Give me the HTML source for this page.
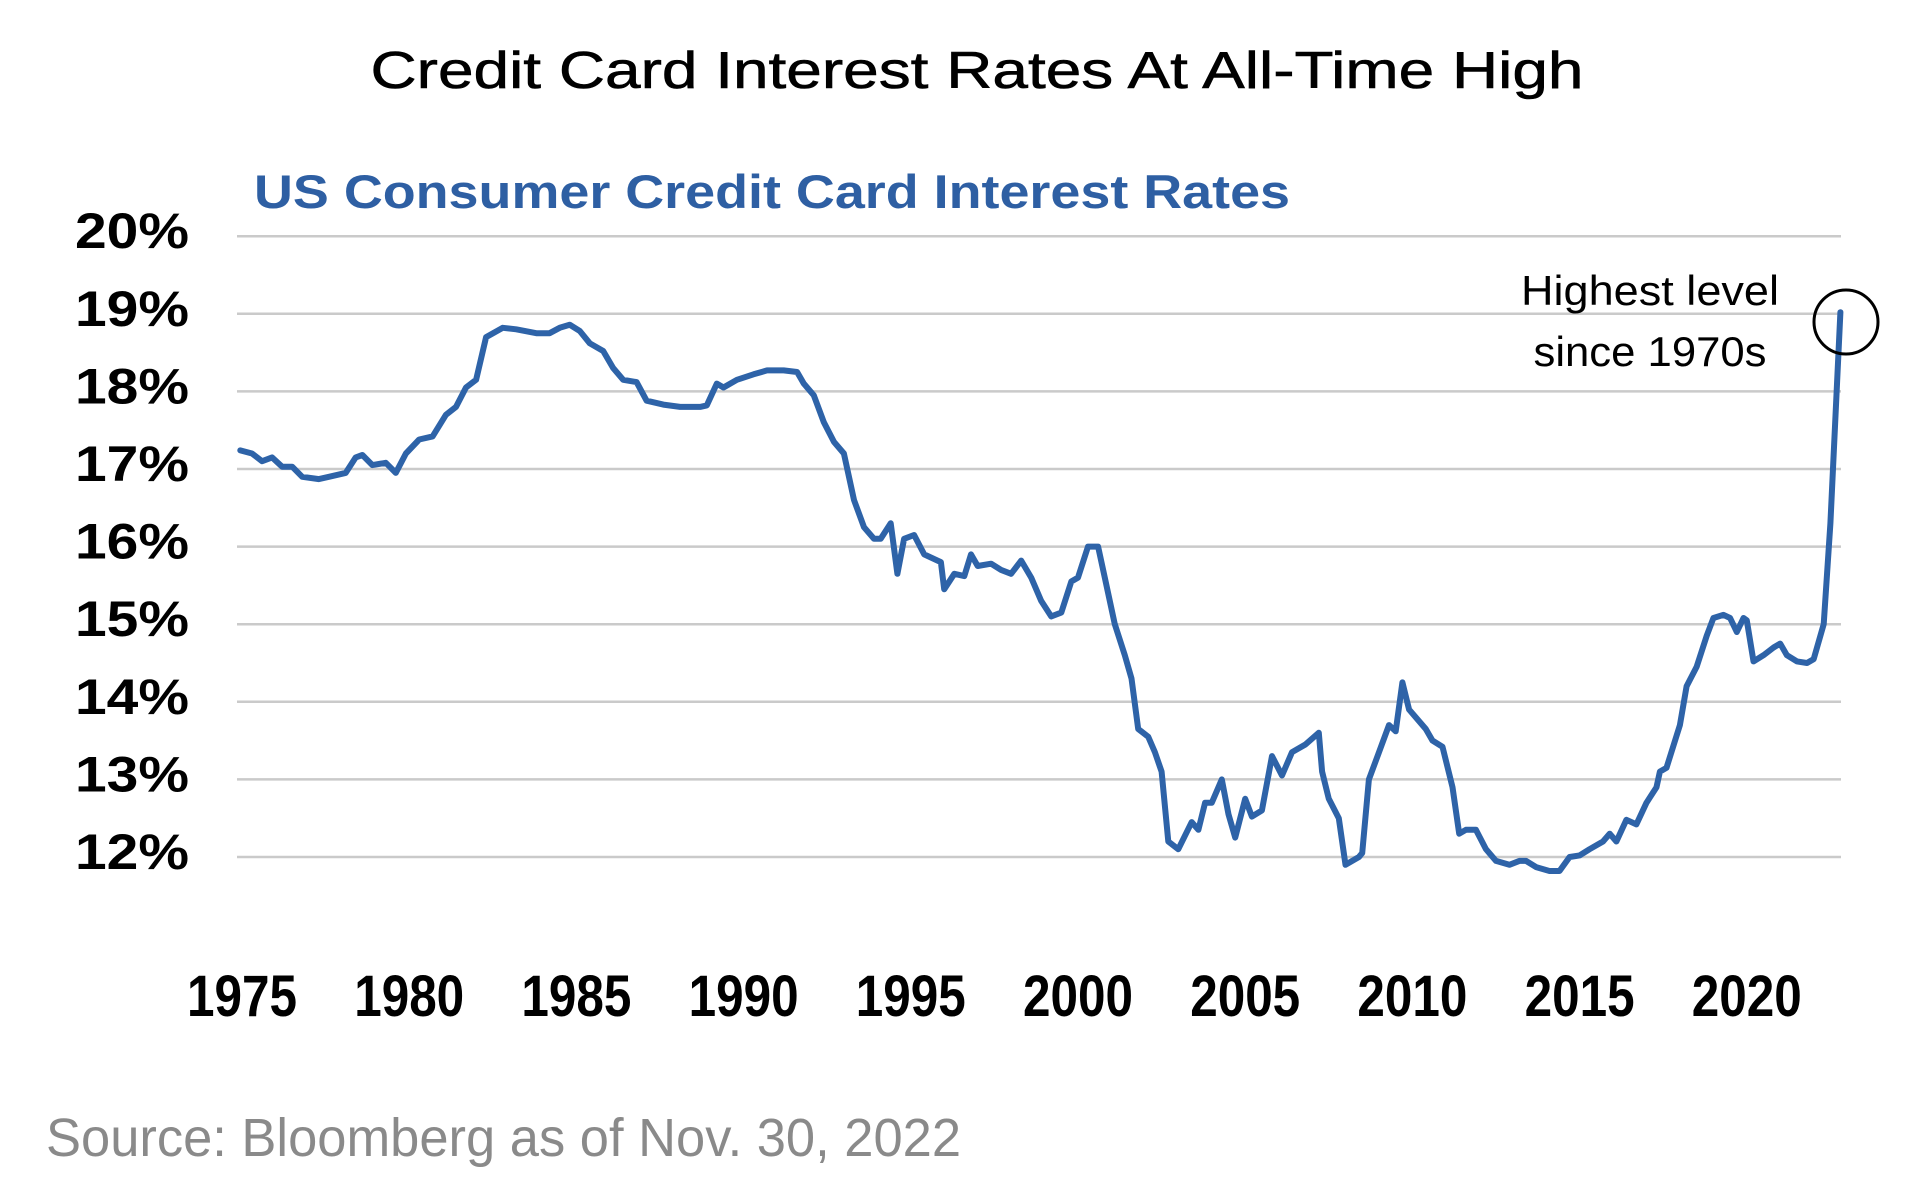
<!DOCTYPE html>
<html><head><meta charset="utf-8"><style>
html,body{margin:0;padding:0;background:#fff;}
svg{display:block;}
</style></head><body>
<svg id="chart" width="1916" height="1184" viewBox="0 0 1916 1184" xmlns="http://www.w3.org/2000/svg">
<text x="977" y="88" text-anchor="middle" font-family="Liberation Sans, sans-serif" font-size="52" fill="#000" stroke="#000" stroke-width="0.6" textLength="1213" lengthAdjust="spacingAndGlyphs">Credit Card Interest Rates At All-Time High</text>
<text x="254" y="208" font-family="Liberation Sans, sans-serif" font-weight="bold" font-size="47" fill="#2e5fa3" textLength="1036" lengthAdjust="spacingAndGlyphs">US Consumer Credit Card Interest Rates</text>
<g id="grid"></g>
<g id="ylabels"></g>
<g id="xlabels"></g>
<path id="series" fill="none" stroke="#2e63a8" stroke-width="6" stroke-linejoin="round" stroke-linecap="round"/>
<circle cx="1846" cy="322" r="32" fill="none" stroke="#000" stroke-width="3"/>
<text x="1650" y="305" text-anchor="middle" font-family="Liberation Sans, sans-serif" font-size="42" fill="#000" textLength="258" lengthAdjust="spacingAndGlyphs">Highest level</text>
<text x="1650" y="366" text-anchor="middle" font-family="Liberation Sans, sans-serif" font-size="42" fill="#000" textLength="233" lengthAdjust="spacingAndGlyphs">since 1970s</text>
<text x="46" y="1156" font-family="Liberation Sans, sans-serif" font-size="54" fill="#8a8a8a" textLength="915" lengthAdjust="spacingAndGlyphs">Source: Bloomberg as of Nov. 30, 2022</text>
</svg>
<script>
const yTicks = [12,13,14,15,16,17,18,19,20];
const yTickLabels = ["12%","13%","14%","15%","16%","17%","18%","19%","20%"];
const xTicks = [1975,1980,1985,1990,1995,2000,2005,2010,2015,2020];
const xTickLabels = ["1975","1980","1985","1990","1995","2000","2005","2010","2015","2020"];
const years = [1974.95,1975.3,1975.6,1975.9,1976.2,1976.5,1976.8,1977.3,1977.6,1978.1,1978.4,1978.6,1978.9,1979.3,1979.6,1979.9,1980.3,1980.7,1981.1,1981.4,1981.7,1982.0,1982.3,1982.8,1983.2,1983.8,1984.2,1984.5,1984.8,1985.1,1985.4,1985.8,1986.1,1986.4,1986.8,1987.1,1987.6,1988.1,1988.7,1988.9,1989.2,1989.4,1989.8,1990.3,1990.7,1991.2,1991.6,1991.8,1992.1,1992.4,1992.7,1993.0,1993.3,1993.6,1993.9,1994.1,1994.4,1994.6,1994.8,1995.1,1995.4,1995.8,1995.9,1996.0,1996.3,1996.6,1996.8,1997.0,1997.4,1997.7,1998.0,1998.3,1998.6,1998.9,1999.2,1999.5,1999.8,2000.0,2000.3,2000.6,2000.8,2001.1,2001.4,2001.6,2001.8,2002.1,2002.3,2002.5,2002.7,2003.0,2003.4,2003.6,2003.8,2004.0,2004.3,2004.5,2004.7,2005.0,2005.2,2005.5,2005.8,2006.1,2006.4,2006.8,2007.2,2007.3,2007.5,2007.8,2008.0,2008.4,2008.5,2008.7,2009.0,2009.3,2009.5,2009.7,2009.9,2010.4,2010.6,2010.9,2011.2,2011.4,2011.6,2011.9,2012.2,2012.5,2012.9,2013.2,2013.4,2013.7,2014.1,2014.4,2014.7,2015.0,2015.3,2015.7,2015.9,2016.1,2016.4,2016.7,2017.0,2017.3,2017.4,2017.6,2018.0,2018.2,2018.5,2018.8,2019.0,2019.3,2019.5,2019.7,2019.9,2020.0,2020.2,2020.5,2020.8,2021.0,2021.2,2021.5,2021.8,2022.0,2022.3,2022.5,2022.8];
const rates = [17.24,17.2,17.1,17.15,17.03,17.03,16.9,16.87,16.9,16.95,17.15,17.18,17.05,17.08,16.95,17.2,17.38,17.42,17.7,17.8,18.05,18.15,18.7,18.82,18.8,18.75,18.75,18.82,18.86,18.78,18.62,18.52,18.3,18.15,18.12,17.88,17.83,17.8,17.8,17.82,18.1,18.05,18.15,18.22,18.27,18.27,18.25,18.1,17.95,17.6,17.35,17.2,16.6,16.25,16.1,16.1,16.3,15.65,16.1,16.15,15.9,15.82,15.8,15.45,15.65,15.62,15.9,15.75,15.78,15.7,15.65,15.82,15.6,15.3,15.1,15.15,15.55,15.6,16.0,16.0,15.6,15.0,14.6,14.3,13.65,13.55,13.35,13.1,12.2,12.1,12.45,12.35,12.7,12.7,13.0,12.55,12.25,12.75,12.52,12.6,13.3,13.05,13.35,13.45,13.6,13.1,12.75,12.5,11.9,12.0,12.05,13.0,13.35,13.7,13.62,14.25,13.9,13.65,13.5,13.42,12.9,12.3,12.35,12.35,12.1,11.95,11.9,11.95,11.95,11.87,11.82,11.82,12.0,12.02,12.1,12.2,12.3,12.2,12.48,12.42,12.7,12.9,13.1,13.15,13.7,14.2,14.45,14.85,15.08,15.12,15.08,14.9,15.08,15.05,14.52,14.6,14.7,14.75,14.6,14.52,14.5,14.55,15.0,16.3,19.02];

const NS = "http://www.w3.org/2000/svg";
function xScale(yr){ return 242 + (yr - 1975) * 33.44; }
function yScale(v){ return 857 - (v - 12) * 77.6; }

const grid = document.getElementById('grid');
const yl = document.getElementById('ylabels');
yTicks.forEach((t,i)=>{
  const ln = document.createElementNS(NS,'line');
  ln.setAttribute('x1',237); ln.setAttribute('x2',1841);
  ln.setAttribute('y1',yScale(t)); ln.setAttribute('y2',yScale(t));
  ln.setAttribute('stroke','#cacaca'); ln.setAttribute('stroke-width','2.5');
  
  
  grid.appendChild(ln);
  const tx = document.createElementNS(NS,'text');
  tx.setAttribute('x',189); tx.setAttribute('y',yScale(t)+12);
  tx.setAttribute('text-anchor','end');
  tx.setAttribute('font-family','Liberation Sans, sans-serif');
  tx.setAttribute('font-weight','bold'); tx.setAttribute('font-size','50');
  tx.setAttribute('textLength','114'); tx.setAttribute('lengthAdjust','spacingAndGlyphs');
  tx.textContent = yTickLabels[i];
  
  
  yl.appendChild(tx);
});
const xl = document.getElementById('xlabels');
xTicks.forEach((t,i)=>{
  const tx = document.createElementNS(NS,'text');
  tx.setAttribute('x',xScale(t)); tx.setAttribute('y',1016);
  tx.setAttribute('text-anchor','middle');
  tx.setAttribute('font-family','Liberation Sans, sans-serif');
  tx.setAttribute('font-weight','bold'); tx.setAttribute('font-size','58');
  tx.setAttribute('textLength','110'); tx.setAttribute('lengthAdjust','spacingAndGlyphs');
  tx.textContent = xTickLabels[i];
  
  
  xl.appendChild(tx);
});
let d = '';
years.forEach((yr,i)=>{ d += (i? 'L':'M') + xScale(yr).toFixed(1) + ',' + yScale(rates[i]).toFixed(1); });
document.getElementById('series').setAttribute('d', d);
</script>
</body></html>
